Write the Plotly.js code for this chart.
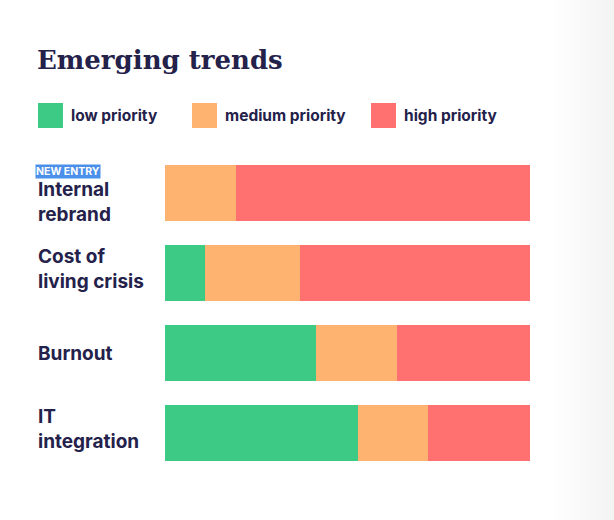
<!DOCTYPE html>
<html>
<head>
<meta charset="utf-8">
<script src="https://cdn.plot.ly/plotly-3.0.1.min.js"></script>
<style>
  html, body { margin:0; padding:0; }
  body { width:614px; height:520px; background: linear-gradient(to right, #ffffff 0px, #ffffff 550px, #f3f3f3 614px); }
  #chart { width:614px; height:520px; }
</style>
</head>
<body>
<div id="chart"></div>
<script>
// ---- data ----
const categories = ['Internal rebrand', 'Cost of living crisis', 'Burnout', 'IT integration'];
const categoryLabels = ['Internal<br>rebrand', 'Cost of<br>living crisis', 'Burnout', 'IT<br>integration'];
const seriesNames = ['low priority', 'medium priority', 'high priority'];
const lowPriority = [0, 11, 41.5, 53];
const mediumPriority = [19.5, 26, 22, 19];
const highPriority = [80.5, 63, 36.5, 28];
const badgeText = 'NEW ENTRY';
const badgeCategory = 'Internal rebrand';
const chartTitle = 'Emerging trends';

// ---- styles ----
const colors = ['#3dca84', '#feb371', '#ff7170'];
const ink = '#24214b';
const sans = 'Inter, "Open Sans", sans-serif';

const W = 614, H = 520, L = 165, R = 84, T = 153, B = 47;
const pw = W - L - R, ph = H - T - B;
const fx = px => (px - L) / pw;
const fy = py => (H - B - py) / ph;

const values = [lowPriority, mediumPriority, highPriority];
const traces = values.map((v, i) => ({
  type: 'bar',
  orientation: 'h',
  y: categories,
  x: v,
  name: seriesNames[i],
  marker: { color: colors[i], line: { width: 0 } },
  width: 0.7,
  hoverinfo: 'x+name'
}));

const annotations = [];
// category labels
categories.forEach((c, i) => {
  const twoLine = categoryLabels[i].indexOf('<br>') >= 0;
  annotations.push({
    xref: 'paper', yref: 'y', x: fx(36), y: c,
    xanchor: 'left', yanchor: 'middle', align: 'left',
    text: '<b>' + categoryLabels[i] + '</b>',
    showarrow: false,
    yshift: c === badgeCategory ? -9 : (twoLine ? 4 : 0),
    font: { family: sans, size: 19, color: ink }
  });
});
// badge
annotations.push({
  xref: 'paper', yref: 'y', x: fx(35), y: badgeCategory,
  xanchor: 'left', yanchor: 'middle',
  text: '<b>' + badgeText + '</b>',
  showarrow: false, yshift: 21.5,
  bgcolor: '#4a8fea', borderpad: 0,
  font: { family: sans, size: 10.5, color: '#ffffff' }
});
// legend
const legendBoxX = [38, 192, 371];
const legendTextX = [69, 223, 402];
const shapes = [];
seriesNames.forEach((n, i) => {
  shapes.push({
    type: 'rect', xref: 'paper', yref: 'paper',
    x0: fx(legendBoxX[i]), x1: fx(legendBoxX[i] + 25),
    y0: fy(128), y1: fy(103),
    fillcolor: colors[i], line: { width: 0 }
  });
  annotations.push({
    xref: 'paper', yref: 'paper', x: fx(legendTextX[i]), y: fy(115.5),
    xanchor: 'left', yanchor: 'middle',
    text: '<b>' + n + '</b>', showarrow: false,
    font: { family: sans, size: 15.5, color: ink }
  });
});

const layout = {
  width: W, height: H,
  margin: { l: L, r: R, t: T, b: B, pad: 0 },
  paper_bgcolor: 'rgba(0,0,0,0)',
  plot_bgcolor: 'rgba(0,0,0,0)',
  barmode: 'stack',
  showlegend: false,
  title: {
    text: '<b>' + chartTitle + '</b>',
    xref: 'container', yref: 'container',
    x: 37 / W, xanchor: 'left',
    y: 1 - 60 / H, yanchor: 'middle',
    font: { family: '"DejaVu Serif", serif', size: 26, color: ink }
  },
  xaxis: { range: [0, 100], visible: false, fixedrange: true },
  yaxis: {
    type: 'category', categoryorder: 'array', categoryarray: categories,
    range: [3.5, -0.5], visible: false, fixedrange: true
  },
  annotations: annotations,
  shapes: shapes
};

Plotly.newPlot('chart', traces, layout, { displayModeBar: false, staticPlot: true });
</script>
</body>
</html>
